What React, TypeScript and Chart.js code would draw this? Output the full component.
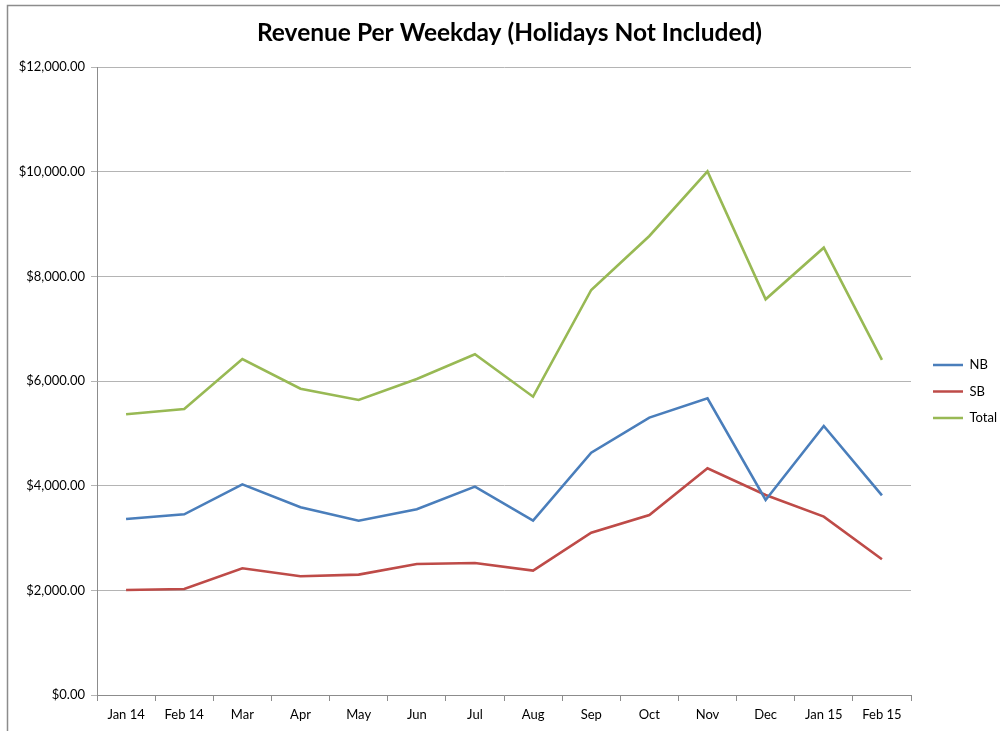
import React, { useEffect, useRef } from "react";
import { Chart, registerables } from "chart.js";

Chart.register(...registerables);

const categories = ["Jan 14", "Feb 14", "Mar", "Apr", "May", "Jun", "Jul", "Aug", "Sep", "Oct", "Nov", "Dec", "Jan 15", "Feb 15"];
const nbValues = [3363, 3453, 4026, 3587, 3331, 3548, 3981, 3331, 4631, 5300, 5670, 3726, 5140, 3815];
const sbValues = [2006, 2026, 2421, 2268, 2300, 2503, 2522, 2376, 3102, 3440, 4332, 3822, 3408, 2593];
const totalValues = [5364, 5465, 6421, 5853, 5637, 6038, 6510, 5700, 7739, 8771, 10005, 7562, 8548, 6402];
const seriesNames = ["NB", "SB", "Total"];
const seriesColors = ["#4A7EBB", "#BE4B48", "#98B954"];
const yTicks = [0, 2000, 4000, 6000, 8000, 10000, 12000];
const titleText = "Revenue Per Weekday (Holidays Not Included)";

const FONT = "Lato, 'Open Sans', sans-serif";

const frame = {
  id: "frame",
  beforeDraw(chart: any) {
    const ctx = chart.ctx;
    ctx.save();
    ctx.fillStyle = "#ffffff";
    ctx.fillRect(0, 0, chart.width, chart.height);
    ctx.strokeStyle = "#8c8c8c";
    ctx.lineWidth = 1.5;
    ctx.beginPath();
    ctx.moveTo(7.5, chart.height);
    ctx.lineTo(7.5, 5.5);
    ctx.lineTo(chart.width, 5.5);
    ctx.stroke();
    ctx.restore();
  },
};

export default function App() {
  const ref = useRef<HTMLCanvasElement | null>(null);
  useEffect(() => {
    document.body.style.margin = "0";
    const allValues = [nbValues, sbValues, totalValues];
    const chart = new Chart(ref.current as HTMLCanvasElement, {
      type: "line",
      data: {
        labels: categories,
        datasets: seriesNames.map((name, i) => ({
          label: name,
          data: allValues[i],
          borderColor: seriesColors[i],
          backgroundColor: seriesColors[i],
          borderWidth: 2.6,
          pointRadius: 0,
          tension: 0,
          yAxisID: "y",
        })),
      },
      options: {
        animation: false,
        responsive: false,
        maintainAspectRatio: false,
        layout: { padding: { left: 19, right: 0, top: 0, bottom: 0 } },
        plugins: {
          title: {
            display: true,
            text: titleText,
            color: "#000",
            font: { family: FONT, size: 24.5, weight: "bold", lineHeight: 1.2 },
            padding: { top: 18, bottom: 19.6 },
          },
          legend: {
            position: "right",
            fullSize: false,
            maxWidth: 80.5,
            title: { display: true, text: "", font: { size: 10, lineHeight: 1 }, padding: { top: 11, bottom: 0 } },
            labels: {
              usePointStyle: true,
              pointStyle: "line",
              pointStyleWidth: 30,
              boxHeight: 13,
              padding: 13.5,
              color: "#000",
              font: { family: FONT, size: 13 },
            },
          },
          tooltip: { enabled: false },
        },
        scales: {
          x: {
            offset: true,
            grid: { display: true, offset: true, drawOnChartArea: false, drawTicks: true, tickLength: 6, color: "#8c8c8c" },
            border: { display: true, color: "#8c8c8c", width: 1 },
            ticks: { color: "#000", font: { family: FONT, size: 13 }, padding: 6, maxRotation: 0, autoSkip: false },
            afterFit: (s: any) => { s.height = 36; },
          },
          y: {
            min: 0,
            max: 12000,
            afterBuildTicks: (s: any) => { s.ticks = yTicks.map((v) => ({ value: v })); },
            grid: { color: "#b4b4b4", lineWidth: 1, tickLength: 6, drawTicks: true },
            border: { display: true, color: "#8c8c8c" },
            ticks: {
              color: "#000",
              padding: 6,
              font: { family: FONT, size: 13 },
              callback: (v: any) => "$" + Number(v).toLocaleString("en-US", { minimumFractionDigits: 2, maximumFractionDigits: 2 }),
            },
            afterFit: (s: any) => { s.width = 78; },
          },
          gap: {
            type: "linear",
            position: "right",
            display: true,
            grid: { display: false },
            border: { display: false },
            ticks: { display: false },
            afterFit: (s: any) => { s.width = 8.5; },
          },
        },
      },
      plugins: [frame],
    } as any);
    return () => chart.destroy();
  }, []);
  return <canvas ref={ref} width={1000} height={731} style={{ display: "block" }} />;
}
